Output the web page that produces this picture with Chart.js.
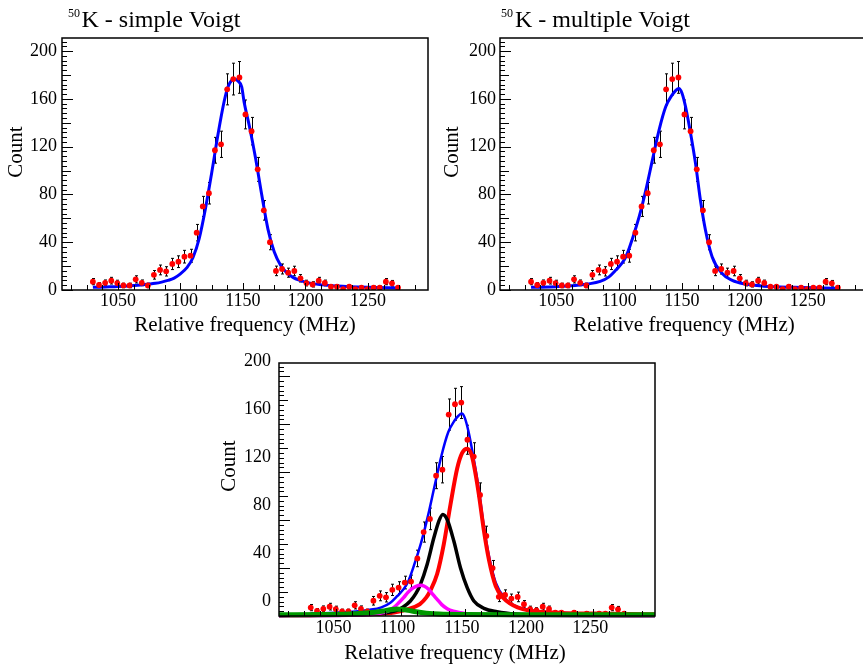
<!DOCTYPE html>
<html><head><meta charset="utf-8">
<script src="https://cdn.jsdelivr.net/npm/chart.js@4.4.1/dist/chart.umd.min.js"></script>
<style>
html,body{margin:0;padding:0;background:#fff;overflow:hidden;width:863px;height:667px;}
.c{position:absolute;}
</style></head><body>
<canvas class="c" id="c1" width="432" height="340" style="left:0;top:0"></canvas>
<canvas class="c" id="c2" width="440" height="340" style="left:432px;top:0"></canvas>
<canvas class="c" id="c3" width="470" height="327" style="left:200px;top:340px"></canvas>
<script>
// ---- data ----
const freq = [1030.0,1034.9,1039.8,1044.7,1049.5,1054.4,1059.3,1064.2,1069.1,1074.0,1078.8,1083.7,1088.6,1093.5,1098.4,1103.2,1108.1,1113.0,1117.9,1122.8,1127.6,1132.5,1137.4,1142.3,1147.2,1152.0,1156.9,1161.8,1166.7,1171.6,1176.4,1181.3,1186.2,1191.1,1196.0,1200.8,1205.7,1210.6,1215.5,1220.4,1225.2,1230.1,1235.0,1239.9,1244.8,1249.6,1254.5,1259.4,1264.3,1269.2,1274.0];
const counts = [7,4.2,6,7.8,5.8,3.8,3.8,8.9,6,3.8,12.7,16.8,15.6,21.8,23.7,27.9,28.7,48,70,81,117,122,168,176.6,178,147,133,101,66.7,40,16,17.6,14.5,15.9,9.8,5.8,4.7,7.8,5.9,2.8,2.8,0.8,2.8,0.8,1.9,0.8,1.9,1.9,7,5.6,1.9];
const countErr = [2.6,2.0,2.4,2.8,2.4,1.9,1.9,3.0,2.4,1.9,3.6,4.1,3.9,4.7,4.9,5.3,5.4,6.9,8.4,9.0,10.8,11.0,13.0,13.3,13.3,12.1,11.5,10.0,8.2,6.3,4.0,4.2,3.8,4.0,3.1,2.4,2.2,2.8,2.4,1.7,1.7,0.9,1.7,0.9,1.4,0.9,1.4,1.4,2.6,2.4,1.4];

const simpleFitX = [1030,1040,1050,1060,1070,1080,1085,1090,1095,1100,1105,1110,1115,1120,1125,1130,1135,1138,1141,1143.5,1146,1149,1151,1155,1160,1165,1170,1175,1180,1185,1190,1195,1200,1210,1225,1250,1275];
const simpleFitY = [2.2,2.6,3.0,3.6,4.4,5.6,6.6,8.0,10,13.5,18.5,27,43,68,98,130,158,170,175.5,176.5,175,170,157,138,111,80,51,32,21,14.5,10.6,8.2,6.6,4.7,3.3,2.2,1.7];

const multiFitX = [1030,1050,1065,1075,1085,1092,1097.5,1102,1105.5,1110.7,1116,1121.3,1126.5,1131.8,1137.1,1142,1145,1147.6,1150,1152.9,1156.9,1160.8,1164.7,1168.7,1174,1181.8,1190,1200,1215,1240,1275];
const multiFitY = [2.2,2.8,3.7,5,7.2,11,16.7,22,27.9,43.2,61.4,83.7,108.8,133.9,153.4,163,167,168.8,165,153.4,131,106,75.3,50.2,27.9,14,8,5,3.2,2.2,1.5];

const peak1X = [1005.3,1030,1060,1080,1095,1105,1115,1120,1123,1128.4,1133.6,1138.8,1144,1147.9,1151.8,1155,1157,1160.8,1164.7,1168.7,1174,1180,1185,1191,1200,1207,1225,1250,1277,1298];
const peak1Y = [0.6,0.7,1.0,1.6,3,5.5,10,15.5,21,35,60,93,123,136,139.5,135,126,102,72,47,25,15,10.5,7.2,4.5,3.6,2.6,2.0,1.6,1.4];
const peak2X = [1005.3,1030,1060,1080,1090,1097,1102,1107.6,1112,1115.4,1120.6,1125.8,1129.7,1132.8,1136.2,1141.4,1146.6,1151.8,1157,1164.8,1175,1190,1210,1240,1298];
const peak2Y = [0.3,0.4,0.8,1.8,3,4.7,7.5,12.5,19,26.4,43,65,79,84.7,80.5,62.5,40,23.6,12.5,6.4,3.6,1.6,0.8,0.4,0.2];
const peak3X = [1005.3,1030,1060,1075,1084,1090,1094.5,1098.5,1102.3,1105.5,1108.9,1112,1115.4,1118.5,1121.9,1125,1128.4,1132,1136.2,1141,1146.6,1154.4,1170,1200,1298];
const peak3Y = [0.3,0.4,0.6,1.2,2.2,4,6.9,11,15.3,19.5,22.8,24.8,25.6,24.8,22.2,18,13.9,9.5,6.1,4,2.8,1.6,0.8,0.4,0.3];
const peak4X = [1005.3,1040,1060,1070,1080,1088,1093,1097,1101,1106,1112,1120,1130,1150,1200,1298];
const peak4Y = [1.0,1.2,1.6,2.2,3.2,4.5,5.4,5.8,5.5,4.7,3.5,2.4,1.6,1.2,1.0,1.0];

const xTicks = [1050,1100,1150,1200,1250];
const yTicks = [0,40,80,120,160,200];

// ---- helpers ----
const pts = (xs, ys) => xs.map((x, i) => ({x: x, y: ys[i]}));
const SERIF = "'Liberation Serif','Times New Roman',serif";

const errorBars = {
  id: 'errorBars',
  beforeDatasetsDraw(chart) {
    const ctx = chart.ctx, a = chart.chartArea, ys = chart.scales.y;
    chart.data.datasets.forEach((ds, i) => {
      if (!ds.errors) return;
      const meta = chart.getDatasetMeta(i);
      ctx.save();
      ctx.beginPath(); ctx.rect(a.left, a.top, a.width, a.height); ctx.clip();
      ctx.strokeStyle = '#000'; ctx.lineWidth = 1;
      meta.data.forEach((p, j) => {
        const v = ds.data[j].y, e = ds.errors[j];
        const x = Math.round(p.x) + 0.5;
        const y1 = ys.getPixelForValue(v + e), y2 = ys.getPixelForValue(v - e);
        ctx.beginPath();
        ctx.moveTo(x, y1); ctx.lineTo(x, y2);
        ctx.moveTo(x - 1.5, y1); ctx.lineTo(x + 1.5, y1);
        ctx.moveTo(x - 1.5, y2); ctx.lineTo(x + 1.5, y2);
        ctx.stroke();
      });
      ctx.restore();
    });
  }
};

const rootFrame = {
  id: 'rootFrame',
  afterDraw(chart, args, o) {
    const ctx = chart.ctx, a = chart.chartArea, xs = chart.scales.x, ys = chart.scales.y;
    ctx.save();
    ctx.strokeStyle = '#000';
    ctx.lineWidth = 1;
    ctx.beginPath();
    for (let k = Math.ceil(ys.min / 4); k * 4 <= ys.max; k++) {
      const v = k * 4, y = Math.round(ys.getPixelForValue(v)) + 0.5;
      const len = (v % 40 === 0) ? 11 : (v % 20 === 0 ? 9 : 5);
      ctx.moveTo(a.left, y); ctx.lineTo(a.left + len, y);
    }
    for (let k = Math.ceil(xs.min / 12.5); k * 12.5 <= xs.max; k++) {
      const v = k * 12.5, x = Math.round(xs.getPixelForValue(v)) + 0.5;
      const len = (v % 50 === 0) ? 7 : 5;
      ctx.moveTo(x, a.bottom); ctx.lineTo(x, a.bottom - len);
    }
    ctx.stroke();
    ctx.lineWidth = 1.5;
    ctx.strokeRect(a.left, a.top, a.right - a.left, a.bottom - a.top);
    ctx.restore();
  }
};

const texts = {
  id: 'texts',
  afterDraw(chart, args, o) {
    const ctx = chart.ctx;
    (o.items || []).forEach(t => {
      ctx.save();
      ctx.font = t.font; ctx.fillStyle = '#000';
      ctx.textAlign = t.align || 'left';
      ctx.textBaseline = t.baseline || 'alphabetic';
      ctx.translate(t.x, t.y);
      if (t.rot) ctx.rotate(t.rot);
      ctx.fillText(t.text, 0, 0);
      ctx.restore();
    });
  }
};

function makeChart(id, datasets, g) {
  return new Chart(document.getElementById(id), {
    type: 'scatter',
    data: {datasets: datasets},
    plugins: [errorBars, rootFrame, texts],
    options: {
      responsive: false, animation: false, events: [],
      layout: {padding: {left: 0, top: g.top, right: g.right, bottom: 0}},
      plugins: {legend: {display: false}, tooltip: {enabled: false}, texts: {items: g.texts}},
      scales: {
        x: {
          type: 'linear', min: 1005.3, max: 1298,
          afterBuildTicks: s => { s.ticks = xTicks.map(v => ({value: v})); },
          afterFit: s => { s.height = g.xH; },
          grid: {display: false, drawTicks: false}, border: {display: false},
          ticks: {font: {family: SERIF, size: 18}, color: '#000', padding: g.xPad, labelOffset: g.xOff, maxRotation: 0, autoSkip: false, callback: v => String(v)},
          title: g.xTitle ? {display: true, text: 'Relative frequency (MHz)', color: '#000', font: {family: SERIF, size: 21, lineHeight: 1}, padding: {top: 0, bottom: 4.5}} : {display: false}
        },
        y: {
          type: 'linear', min: 0, max: 211,
          afterBuildTicks: s => { s.ticks = yTicks.map(v => ({value: v})); },
          afterFit: s => { s.width = g.yW; },
          grid: {display: false, drawTicks: false}, border: {display: false},
          ticks: {font: {family: SERIF, size: 18}, color: '#000', padding: g.yPad, labelOffset: g.yOff, callback: v => String(v)},
          title: {display: false}
        }
      }
    }
  });
}

const dataSet = () => ({
  label: 'Data', data: pts(freq, counts), errors: countErr,
  pointRadius: 2.9, pointBackgroundColor: '#ff0000', pointBorderWidth: 0, showLine: false, order: 1
});
const curve = (label, xs, ys, color, w, order) => ({
  label: label, data: pts(xs, ys), showLine: true, pointRadius: 0, borderColor: color,
  borderWidth: w, fill: false, cubicInterpolationMode: 'monotone', order: order,
  clip: {left: 0, top: 0, right: 0, bottom: 3}
});

makeChart('c1', [dataSet(), curve('Simple Voigt fit', simpleFitX, simpleFitY, '#0000ff', 3, 2)], {
  top: 38, right: 1, xH: 50, yW: 62, xPad: 0, xOff: 0, yPad: 5, yOff: 0, xTitle: true,
  texts: [
    {text: '50', x: 68, y: 16.5, font: '12px ' + SERIF},
    {text: 'K - simple Voigt', x: 81.5, y: 26.7, font: '24px ' + SERIF},
    {text: 'Count', x: 16, y: 152, font: '21px ' + SERIF, rot: -Math.PI / 2, align: 'center', baseline: 'middle'}
  ]
});

makeChart('c2', [dataSet(), curve('Multiple Voigt fit', multiFitX, multiFitY, '#0000ff', 3, 2)], {
  top: 38, right: 2, xH: 50, yW: 68, xPad: 0, xOff: 0, yPad: 4, yOff: 0, xTitle: true,
  texts: [
    {text: '50', x: 69, y: 16.5, font: '12px ' + SERIF},
    {text: 'K - multiple Voigt', x: 83, y: 26.7, font: '24px ' + SERIF},
    {text: 'Count', x: 20, y: 152, font: '21px ' + SERIF, rot: -Math.PI / 2, align: 'center', baseline: 'middle'}
  ]
});

makeChart('c3', [
  curve('Peak 4', peak4X, peak4Y, '#009900', 5, 0),
  dataSet(),
  curve('Peak 3', peak3X, peak3Y, '#ff00ff', 3.5, 2),
  curve('Peak 2', peak2X, peak2Y, '#000000', 3.5, 3),
  curve('Peak 1', peak1X, peak1Y, '#ff0000', 4, 4),
  curve('Total fit', multiFitX, multiFitY, '#0000ff', 2.5, 5)
], {
  top: 23, right: 15, xH: 51, yW: 79, xPad: 1, xOff: -3, yPad: 8, yOff: -15, xTitle: false,
  texts: [
    {text: 'Relative frequency (MHz)', x: 255, y: 313, font: '21px ' + SERIF, align: 'center', baseline: 'middle'},
    {text: 'Count', x: 29.5, y: 126, font: '21px ' + SERIF, rot: -Math.PI / 2, align: 'center', baseline: 'middle'}
  ]
});
</script>
</body></html>
